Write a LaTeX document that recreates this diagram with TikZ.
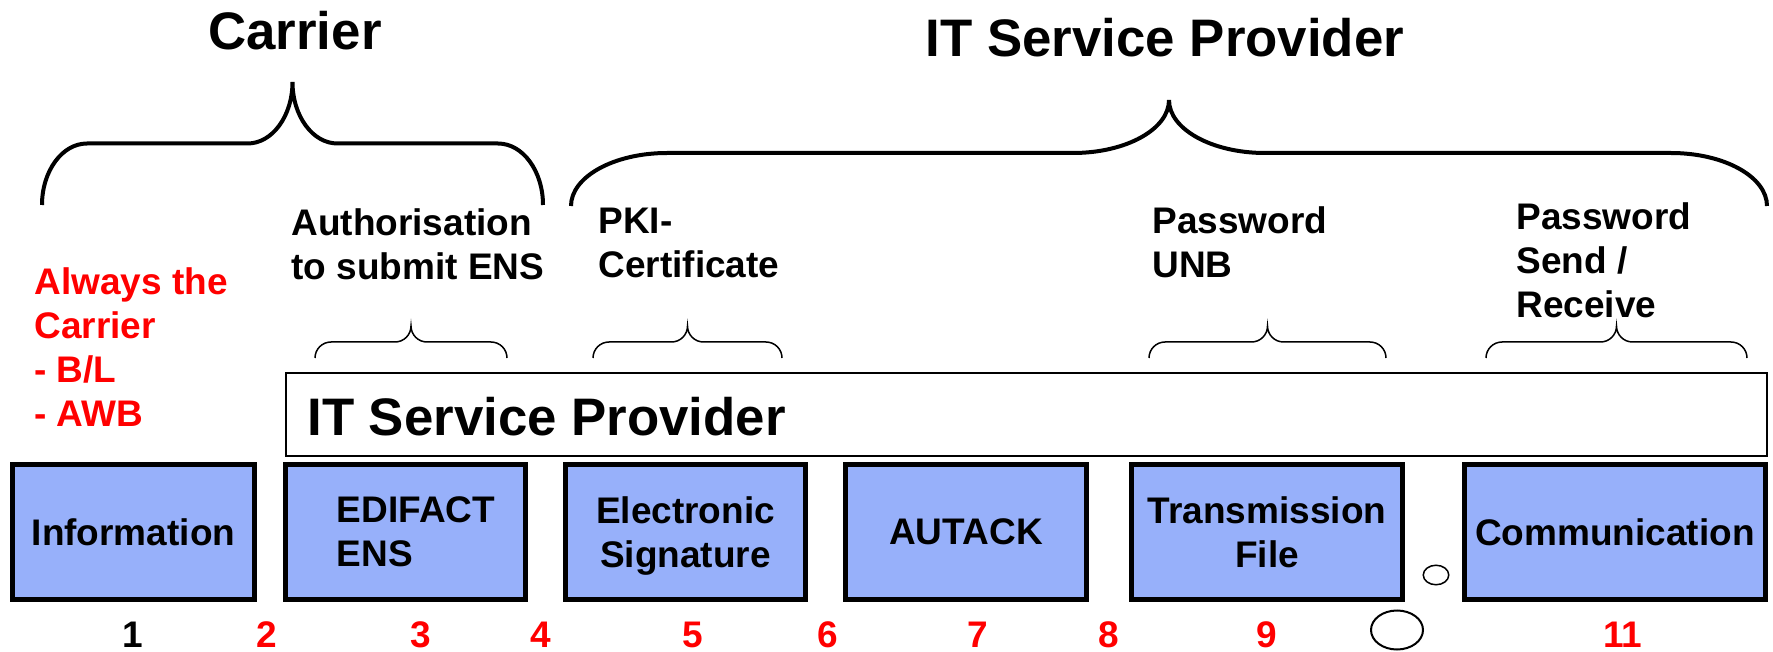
\documentclass[tikz,border=0pt]{standalone}
\usepackage{fontspec}
\setmainfont{Liberation Sans}
\usepackage{tikz}
\usetikzlibrary{positioning}
\usetikzlibrary{shapes,shapes.geometric}
\usepackage{xcolor}
\definecolor{boxblue}{HTML}{97B0FA}

% #2 left, #3 right, #4 foot, #5 height of each bend, #6 width of each bend
\newcommand\topbrace[6][]{%
  \pgfmathsetmacro\brM{(#2+#3)/2}%
  \pgfmathsetmacro\brB{#4-#5}%
  \pgfmathsetmacro\brT{#4-2*#5}%
  \pgfmathsetmacro\brKh{0.552*#5}%
  \pgfmathsetmacro\brKw{0.552*#6}%
  \draw[#1] (#2,#4) .. controls (#2,#4-\brKh) and (#2+#6-\brKw,\brB) .. (#2+#6,\brB)
    -- (\brM-#6,\brB) .. controls (\brM-#6+\brKw,\brB) and (\brM,\brT+\brKh) .. (\brM,\brT)
    .. controls (\brM,\brT+\brKh) and (\brM+#6-\brKw,\brB) .. (\brM+#6,\brB)
    -- (#3-#6,\brB) .. controls (#3-#6+\brKw,\brB) and (#3,#4-\brKh) .. (#3,#4);
}

\begin{document}
\begin{tikzpicture}[x=0.5pt, y=-0.5pt,
		lbl/.style={font=\fontsize{18.5}{22}\selectfont\bfseries, inner sep=0pt, align=left, anchor=base west},
		ttl/.style={font=\fontsize{26.4}{32}\selectfont\bfseries, inner sep=0pt, anchor=base},
		stepbox/.style={draw, line width=2.5pt, fill=boxblue, minimum height=67.5pt, inner sep=0pt,
			font=\fontsize{18.5}{22}\selectfont\bfseries, align=center, text depth=0pt},
		num/.style={font=\fontsize{18.5}{22}\selectfont\bfseries, inner sep=0pt, anchor=base, text=red},
		bigbrace/.style={line width=2pt},
		smallbrace/.style={line width=0.75pt}]
		\useasboundingbox (0,0) rectangle (1773,652);
		
		\node[ttl] (carrier) at (295,50) {Carrier};
		\node[ttl] (provider) at (1165,57) {IT Service Provider};
		\topbrace[bigbrace]{42}{543}{205}{61.5}{45}
		\topbrace[bigbrace]{571}{1767}{206}{53}{96}
		
		% last line baselines
		\node[lbl, text=red] (always) at (34,426) {Always the\\Carrier\\- B/L\\- AWB};
		\node[lbl] (auth) at (291,280) {Authorisation\\to submit ENS};
		\node[lbl] (pki) at (598,278) {PKI-\\Certificate};
		\node[lbl] (unb) at (1152,278) {Password\\UNB};
		\node[lbl] (send) at (1516,318) {Password\\Send /\\Receive};
		
		\topbrace[smallbrace]{315}{507}{358}{16}{16}
		\topbrace[smallbrace]{593}{782}{358}{16}{16}
		\topbrace[smallbrace]{1149}{1386}{358}{16}{16}
		\topbrace[smallbrace]{1486}{1747}{358}{16}{16}
		
		\node[draw, line width=1pt, minimum width=740.5pt, minimum height=41.5pt, inner sep=0pt] (itsp) at (1026.5,414.5) {};
		\node[ttl, anchor=base west] (itsptext) at (307,436) {IT Service Provider};
		
		\node[stepbox, minimum width=121pt] (b1) at (133.5,532) {Information};
		\node[stepbox, minimum width=120pt] (b2) at (405.5,532) {};
		\node[lbl, anchor=center, xshift=5.25pt] (b2text) at (b2) {EDIFACT\\ENS};
		\node[stepbox, minimum width=120pt] (b3) at (685.5,532) {Electronic\\Signature};
		\node[stepbox, minimum width=120.5pt] (b4) at (966,532) {AUTACK};
		\node[stepbox, minimum width=135.5pt] (b5) at (1267,532) {Transmission\\File};
		\node[stepbox, minimum width=150.5pt] (b6) at (1615,532) {Communication};
		
		\node[draw, ellipse, line width=0.75pt, minimum width=12.75pt, minimum height=9.75pt, inner sep=0pt] (dot1) at (1436,575) {};
		\node[draw, ellipse, line width=1pt, minimum width=26pt, minimum height=19.5pt, inner sep=0pt] (dot2) at (1397,630) {};
		
		\node[num, text=black] (n1) at (133,647) {1};
		\node[num] (n2) at (267,647) {2};
		\node[num] (n3) at (421,647) {3};
		\node[num] (n4) at (541,647) {4};
		\node[num] (n5) at (693,647) {5};
		\node[num] (n6) at (828,647) {6};
		\node[num] (n7) at (978,647) {7};
		\node[num] (n8) at (1109,647) {8};
		\node[num] (n9) at (1267,647) {9};
		\node[num] (n11) at (1623,647) {11};
		
	\end{tikzpicture}
\end{document}
